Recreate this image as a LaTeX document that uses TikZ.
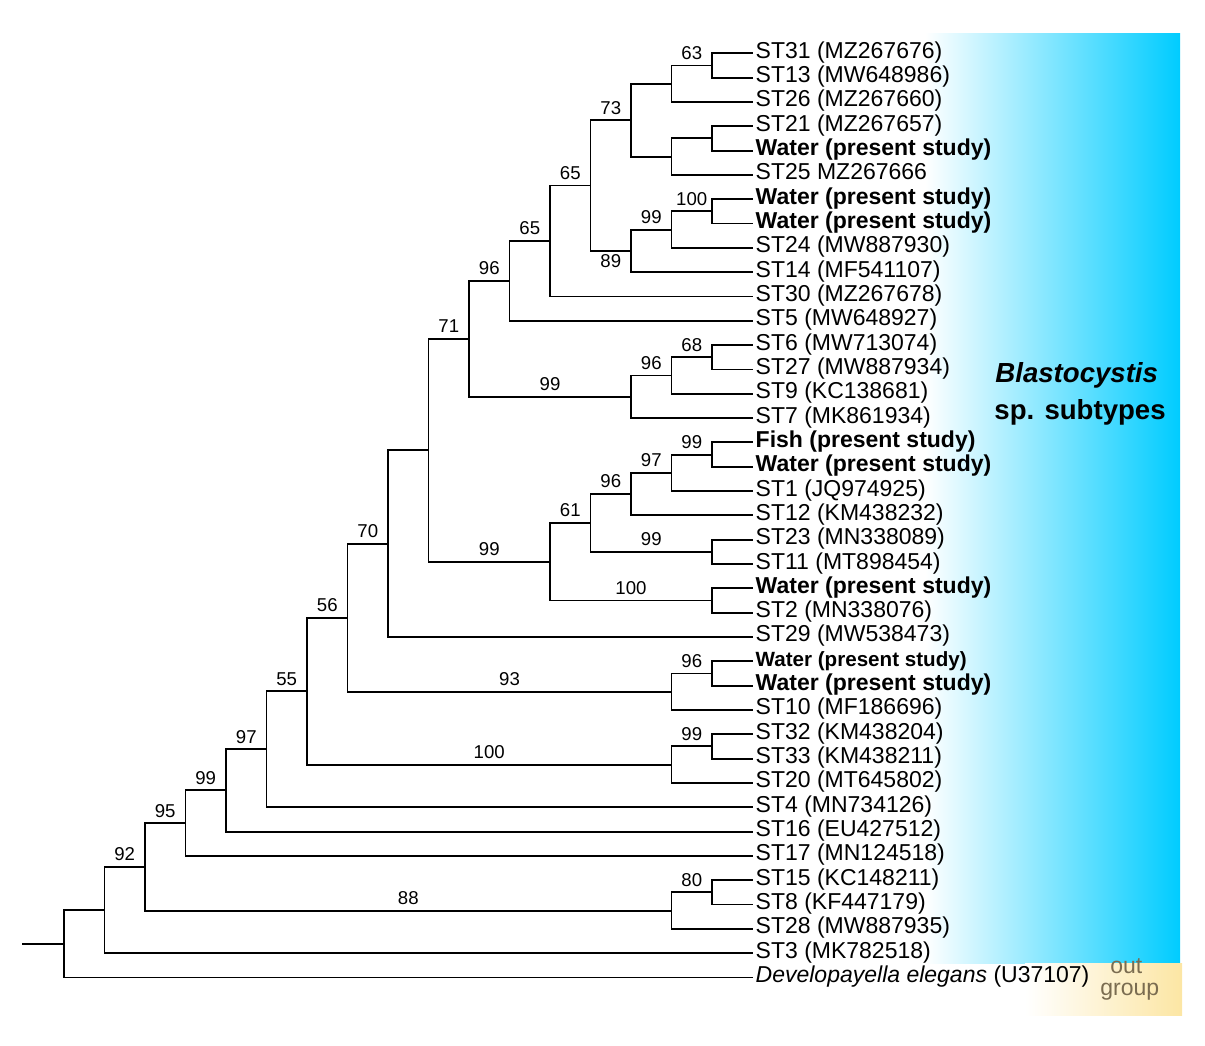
\documentclass[tikz,border=0pt]{standalone}
\usepackage{fontspec}
\setmainfont{Liberation Sans}
\usepackage{tikz}
\usetikzlibrary{calc,positioning}
\definecolor{colorsub}{HTML}{00CCFF}
\definecolor{colorout}{HTML}{FCE6A4}
\definecolor{colorouttext}{HTML}{7A6C50}
\tikzset{
  br/.style={black, line width=0.95pt},
  leaf/.style={anchor=base west, inner xsep=1.4pt, inner ysep=0pt, yshift=-2.5pt, font=\fontsize{11.5}{13}\selectfont},
  bs/.style={above=2.5pt, inner sep=0pt, font=\fontsize{9.3}{11}\selectfont},
  bsb/.style={below=1.5pt, inner sep=0pt, font=\fontsize{9.3}{11}\selectfont}
}

\begin{document}
\begin{tikzpicture}[x=0.5pt, y=-0.5pt]
\useasboundingbox (0,0) rectangle (1205,1045);
\shade[left color=white, right color=colorsub] (925,33) rectangle (1180,963);
\shade[left color=white, right color=colorout] (1025,963) rectangle (1182,1015);
\node[anchor=base west, inner sep=0pt, font=\fontsize{13.8}{16}\selectfont\bfseries\itshape] (sub1) at (995,382) {Blastocystis};
\node[anchor=base west, inner sep=0pt, font=\fontsize{13.8}{16}\selectfont\bfseries] (sub2) at (994,419) {sp. subtypes};
\node[anchor=base west, inner sep=0pt, text=colorouttext, font=\fontsize{11.5}{13}\selectfont] (out1) at (1110,973) {out};
\node[anchor=base west, inner sep=0pt, text=colorouttext, font=\fontsize{11.5}{13}\selectfont] (out2) at (1100,995) {group};

% leaves
\foreach \i/\txt in {
  1/{ST31 (MZ267676)}, 2/{ST13 (MW648986)}, 3/{ST26 (MZ267660)},
  4/{ST21 (MZ267657)}, 5/{\textbf{Water (present study)}}, 6/{ST25 MZ267666},
  7/{\textbf{Water (present study)}}, 8/{\textbf{Water (present study)}},
  9/{ST24 (MW887930)}, 10/{ST14 (MF541107)}, 11/{ST30 (MZ267678)},
  12/{ST5 (MW648927)}, 13/{ST6 (MW713074)}, 14/{ST27 (MW887934)},
  15/{ST9 (KC138681)}, 16/{ST7 (MK861934)}, 17/{\textbf{Fish (present study)}},
  18/{\textbf{Water (present study)}}, 19/{ST1 (JQ974925)}, 20/{ST12 (KM438232)},
  21/{ST23 (MN338089)}, 22/{ST11 (MT898454)}, 23/{\textbf{Water (present study)}},
  24/{ST2 (MN338076)}, 25/{ST29 (MW538473)},
  26/{{\fontsize{10.3}{12}\selectfont\bfseries Water (present study)}},
  27/{\textbf{Water (present study)}}, 28/{ST10 (MF186696)}, 29/{ST32 (KM438204)},
  30/{ST33 (KM438211)}, 31/{ST20 (MT645802)}, 32/{ST4 (MN734126)},
  33/{ST16 (EU427512)}, 34/{ST17 (MN124518)}, 35/{ST15 (KC148211)},
  36/{ST8 (KF447179)}, 37/{ST28 (MW887935)}, 38/{ST3 (MK782518)},
  39/{\textit{Developayella elegans} (U37107)}}
{
  \coordinate (t\i) at (752.5,{53.3+(\i-1)*24.32});
  \node[leaf] (l\i) at (t\i) {\txt};
}

% internal nodes
\coordinate (r0) at (22,943.73);
\coordinate (root) at (64,943.73);
\coordinate (nb) at (104.5,910.0);
\coordinate (n92) at (145,866.85);
\coordinate (n95) at (185.5,823.12);
\coordinate (n99a) at (226,790.37);
\coordinate (n97) at (266.5,749.20);
\coordinate (n55) at (307,691.17);
\coordinate (n56) at (347.5,617.67);
\coordinate (n70) at (388,543.64);
\coordinate (na) at (428.5,450.31);
\coordinate (n71) at (469,338.87);
\coordinate (n96b) at (509.5,280.92);
\coordinate (n65a) at (550,241.02);
\coordinate (n65b) at (590.5,185.54);
\coordinate (n73) at (631,120.18);
\coordinate (nx) at (671.5,83.70);
\coordinate (n63) at (712,65.46);
\coordinate (nz) at (671.5,156.66);
\coordinate (ny) at (712,138.42);
\coordinate (n89) at (631,250.90);
\coordinate (nw) at (671.5,229.62);
\coordinate (n100c) at (712,211.38);
\coordinate (n99f) at (631,396.82);
\coordinate (n96d) at (671.5,375.54);
\coordinate (n68) at (712,357.30);
\coordinate (n99c) at (550,561.74);
\coordinate (n61) at (590.5,522.98);
\coordinate (n96c) at (631,494.10);
\coordinate (n97b) at (671.5,472.82);
\coordinate (n99e) at (712,454.58);
\coordinate (n99d) at (712,551.86);
\coordinate (n100b) at (712,600.50);
\coordinate (n93) at (671.5,691.70);
\coordinate (n96a) at (712,673.46);
\coordinate (n100a) at (671.5,764.66);
\coordinate (n99b) at (712,746.42);
\coordinate (n88) at (671.5,910.58);
\coordinate (n80) at (712,892.34);

% branches
\draw[br] (r0) -- (root);
\draw[br] (root) |- (nb);
\draw[br] (root) |- (t39);
\draw[br] (nb) |- (n92) node[pos=.75,bs] {92};
\draw[br] (nb) |- (t38);
\draw[br] (n92) |- (n95) node[pos=.75,bs] {95};
\draw[br] (n92) |- (n88) node[pos=.75,bs] {88};
\draw[br] (n88) |- (n80) node[pos=.75,bs] {80};
\draw[br] (n88) |- (t37);
\draw[br] (n80) |- (t35);
\draw[br] (n80) |- (t36);
\draw[br] (n95) |- (n99a) node[pos=.75,bs] {99};
\draw[br] (n95) |- (t34);
\draw[br] (n99a) |- (n97) node[pos=.75,bs] {97};
\draw[br] (n99a) |- (t33);
\draw[br] (n97) |- (n55) node[pos=.75,bs] {55};
\draw[br] (n97) |- (t32);
\draw[br] (n55) |- (n56) node[pos=.75,bs] {56};
\draw[br] (n55) |- (n100a) node[pos=.75,bs] {100};
\draw[br] (n100a) |- (n99b) node[pos=.75,bs] {99};
\draw[br] (n100a) |- (t31);
\draw[br] (n99b) |- (t29);
\draw[br] (n99b) |- (t30);
\draw[br] (n56) |- (n70) node[pos=.75,bs] {70};
\draw[br] (n56) |- (n93) node[pos=.75,bs] {93};
\draw[br] (n93) |- (n96a) node[pos=.75,bs] {96};
\draw[br] (n93) |- (t28);
\draw[br] (n96a) |- (t26);
\draw[br] (n96a) |- (t27);
\draw[br] (n70) |- (na);
\draw[br] (n70) |- (t25);
\draw[br] (na) |- (n71) node[pos=.75,bs] {71};
\draw[br] (na) |- (n99c) node[pos=.75,bs] {99};
\draw[br] (n99c) |- (n61) node[pos=.75,bs] {61};
\draw[br] (n99c) |- (n100b) node[pos=.75,bs] {100};
\draw[br] (n100b) |- (t23);
\draw[br] (n100b) |- (t24);
\draw[br] (n61) |- (n96c) node[pos=.75,bs] {96};
\draw[br] (n61) |- (n99d) node[pos=.75,bs] {99};
\draw[br] (n99d) |- (t21);
\draw[br] (n99d) |- (t22);
\draw[br] (n96c) |- (n97b) node[pos=.75,bs] {97};
\draw[br] (n96c) |- (t20);
\draw[br] (n97b) |- (n99e) node[pos=.75,bs] {99};
\draw[br] (n97b) |- (t19);
\draw[br] (n99e) |- (t17);
\draw[br] (n99e) |- (t18);
\draw[br] (n71) |- (n96b) node[pos=.75,bs] {96};
\draw[br] (n71) |- (n99f) node[pos=.75,bs] {99};
\draw[br] (n99f) |- (n96d) node[pos=.75,bs] {96};
\draw[br] (n99f) |- (t16);
\draw[br] (n96d) |- (n68) node[pos=.75,bs] {68};
\draw[br] (n96d) |- (t15);
\draw[br] (n68) |- (t13);
\draw[br] (n68) |- (t14);
\draw[br] (n96b) |- (n65a) node[pos=.75,bs] {65};
\draw[br] (n96b) |- (t12);
\draw[br] (n65a) |- (n65b) node[pos=.75,bs] {65};
\draw[br] (n65a) |- (t11);
\draw[br] (n65b) |- (n73) node[pos=.75,bs] {73};
\draw[br] (n65b) |- (n89) node[pos=.75,bsb] {89};
\draw[br] (n89) |- (nw) node[pos=.75,bs] {99};
\draw[br] (n89) |- (t10);
\draw[br] (nw) |- (n100c) node[pos=.75,bs] {100};
\draw[br] (nw) |- (t9);
\draw[br] (n100c) |- (t7);
\draw[br] (n100c) |- (t8);
\draw[br] (n73) |- (nx);
\draw[br] (n73) |- (nz);
\draw[br] (nx) |- (n63) node[pos=.75,bs] {63};
\draw[br] (nx) |- (t3);
\draw[br] (n63) |- (t1);
\draw[br] (n63) |- (t2);
\draw[br] (nz) |- (ny);
\draw[br] (nz) |- (t6);
\draw[br] (ny) |- (t4);
\draw[br] (ny) |- (t5);
\end{tikzpicture}
\end{document}
